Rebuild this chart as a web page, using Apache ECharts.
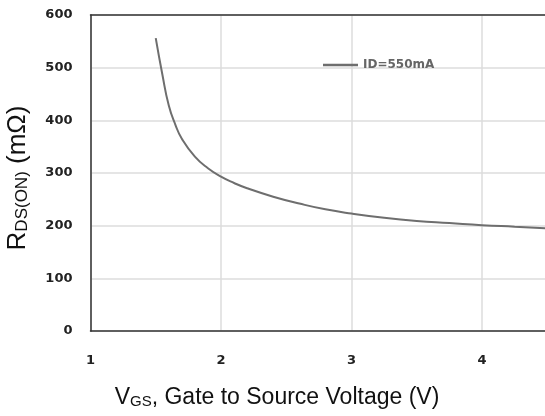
<!DOCTYPE html>
<html><head><meta charset="utf-8">
<script src="https://cdn.jsdelivr.net/npm/echarts@6/dist/echarts.min.js"></script>
<style>html,body{margin:0;padding:0;background:#fff}#c{width:545px;height:416px}</style>
</head><body><div id="c"></div>
<script>
var vgs = [1.5, 1.55, 1.6, 1.65, 1.7, 1.8, 1.9, 2.0, 2.1, 2.2, 2.4, 2.6, 2.8, 3.0, 3.25, 3.5, 3.75, 4.0, 4.25, 4.5];
var rds = [556, 488, 428, 392, 365, 331, 309, 293, 281, 271, 255, 242, 231, 223, 215, 209, 205, 201, 198, 195];
var seriesName = 'ID=550mA';
var xTicks = [1, 2, 3, 4];
var yTicks = [0, 100, 200, 300, 400, 500, 600];

var chart = echarts.init(document.getElementById('c'));
chart.setOption({
  animation: false,
  grid: {left: 90.5, top: 15, bottom: 85, right: 0, show: false},
  legend: {
    data: [seriesName], left: 318, top: 54, icon: 'rect', itemWidth: 35, itemHeight: 2.5,
    textStyle: {color: '#666', fontWeight: 'bold', fontSize: 12, fontFamily: 'DejaVu Sans'}
  },
  xAxis: [{
    type: 'value', min: 1, max: 4.483, interval: 1,
    axisLine: {show: true, lineStyle: {color: '#333', width: 1.5}},
    axisTick: {show: false},
    splitLine: {show: true, showMaxLine: false, lineStyle: {color: '#dcdcdc', width: 1.5}},
    axisLabel: {color: '#222', fontWeight: 'bold', fontSize: 13, margin: 23, fontFamily: 'DejaVu Sans', showMaxLabel: false,
      formatter: function(v){ return xTicks.indexOf(v) >= 0 ? String(v) : ''; }}
  }, {
    type: 'value', position: 'top', min: 1, max: 4.483,
    axisLine: {show: true, onZero: false, lineStyle: {color: '#333', width: 1.5}},
    axisTick: {show: false}, axisLabel: {show: false}, splitLine: {show: false}
  }],
  yAxis: {
    type: 'value', min: 0, max: 600, interval: 100,
    axisLine: {show: true, lineStyle: {color: '#333', width: 1.5}},
    axisTick: {show: false},
    splitLine: {show: true, lineStyle: {color: '#dcdcdc', width: 1.5}},
    axisLabel: {color: '#222', fontWeight: 'bold', fontSize: 13, margin: 18, fontFamily: 'DejaVu Sans',
      formatter: function(v){ return yTicks.indexOf(v) >= 0 ? String(v) : ''; }}
  },
  graphic: [
    {type: 'text', x: 18, y: 178, rotation: Math.PI/2,
      style: {text: '{m|R}{s|DS(ON)}{m| (mΩ)}', align: 'center', verticalAlign: 'middle',
        rich: {m: {fontSize: 26, fill: '#111', fontFamily: 'Liberation Sans'}, s: {fontSize: 17, fill: '#111', fontFamily: 'Liberation Sans', padding: [8,0,0,0]}}}},
    {type: 'text', x: 277, y: 398,
      style: {text: '{m|V}{s|GS}{m|, Gate to Source Voltage (V)}', align: 'center', verticalAlign: 'middle',
        rich: {m: {fontSize: 23, fill: '#111', fontFamily: 'Liberation Sans'}, s: {fontSize: 15, fill: '#111', fontFamily: 'Liberation Sans', padding: [7,0,0,0]}}}}
  ],
  series: [{
    name: seriesName, type: 'line', smooth: 0.5, symbol: 'none',
    lineStyle: {color: '#6e6e6e', width: 2}, itemStyle: {color: '#6e6e6e'},
    data: vgs.map(function(x, i){ return [x, rds[i]]; })
  }]
});
</script></body></html>
